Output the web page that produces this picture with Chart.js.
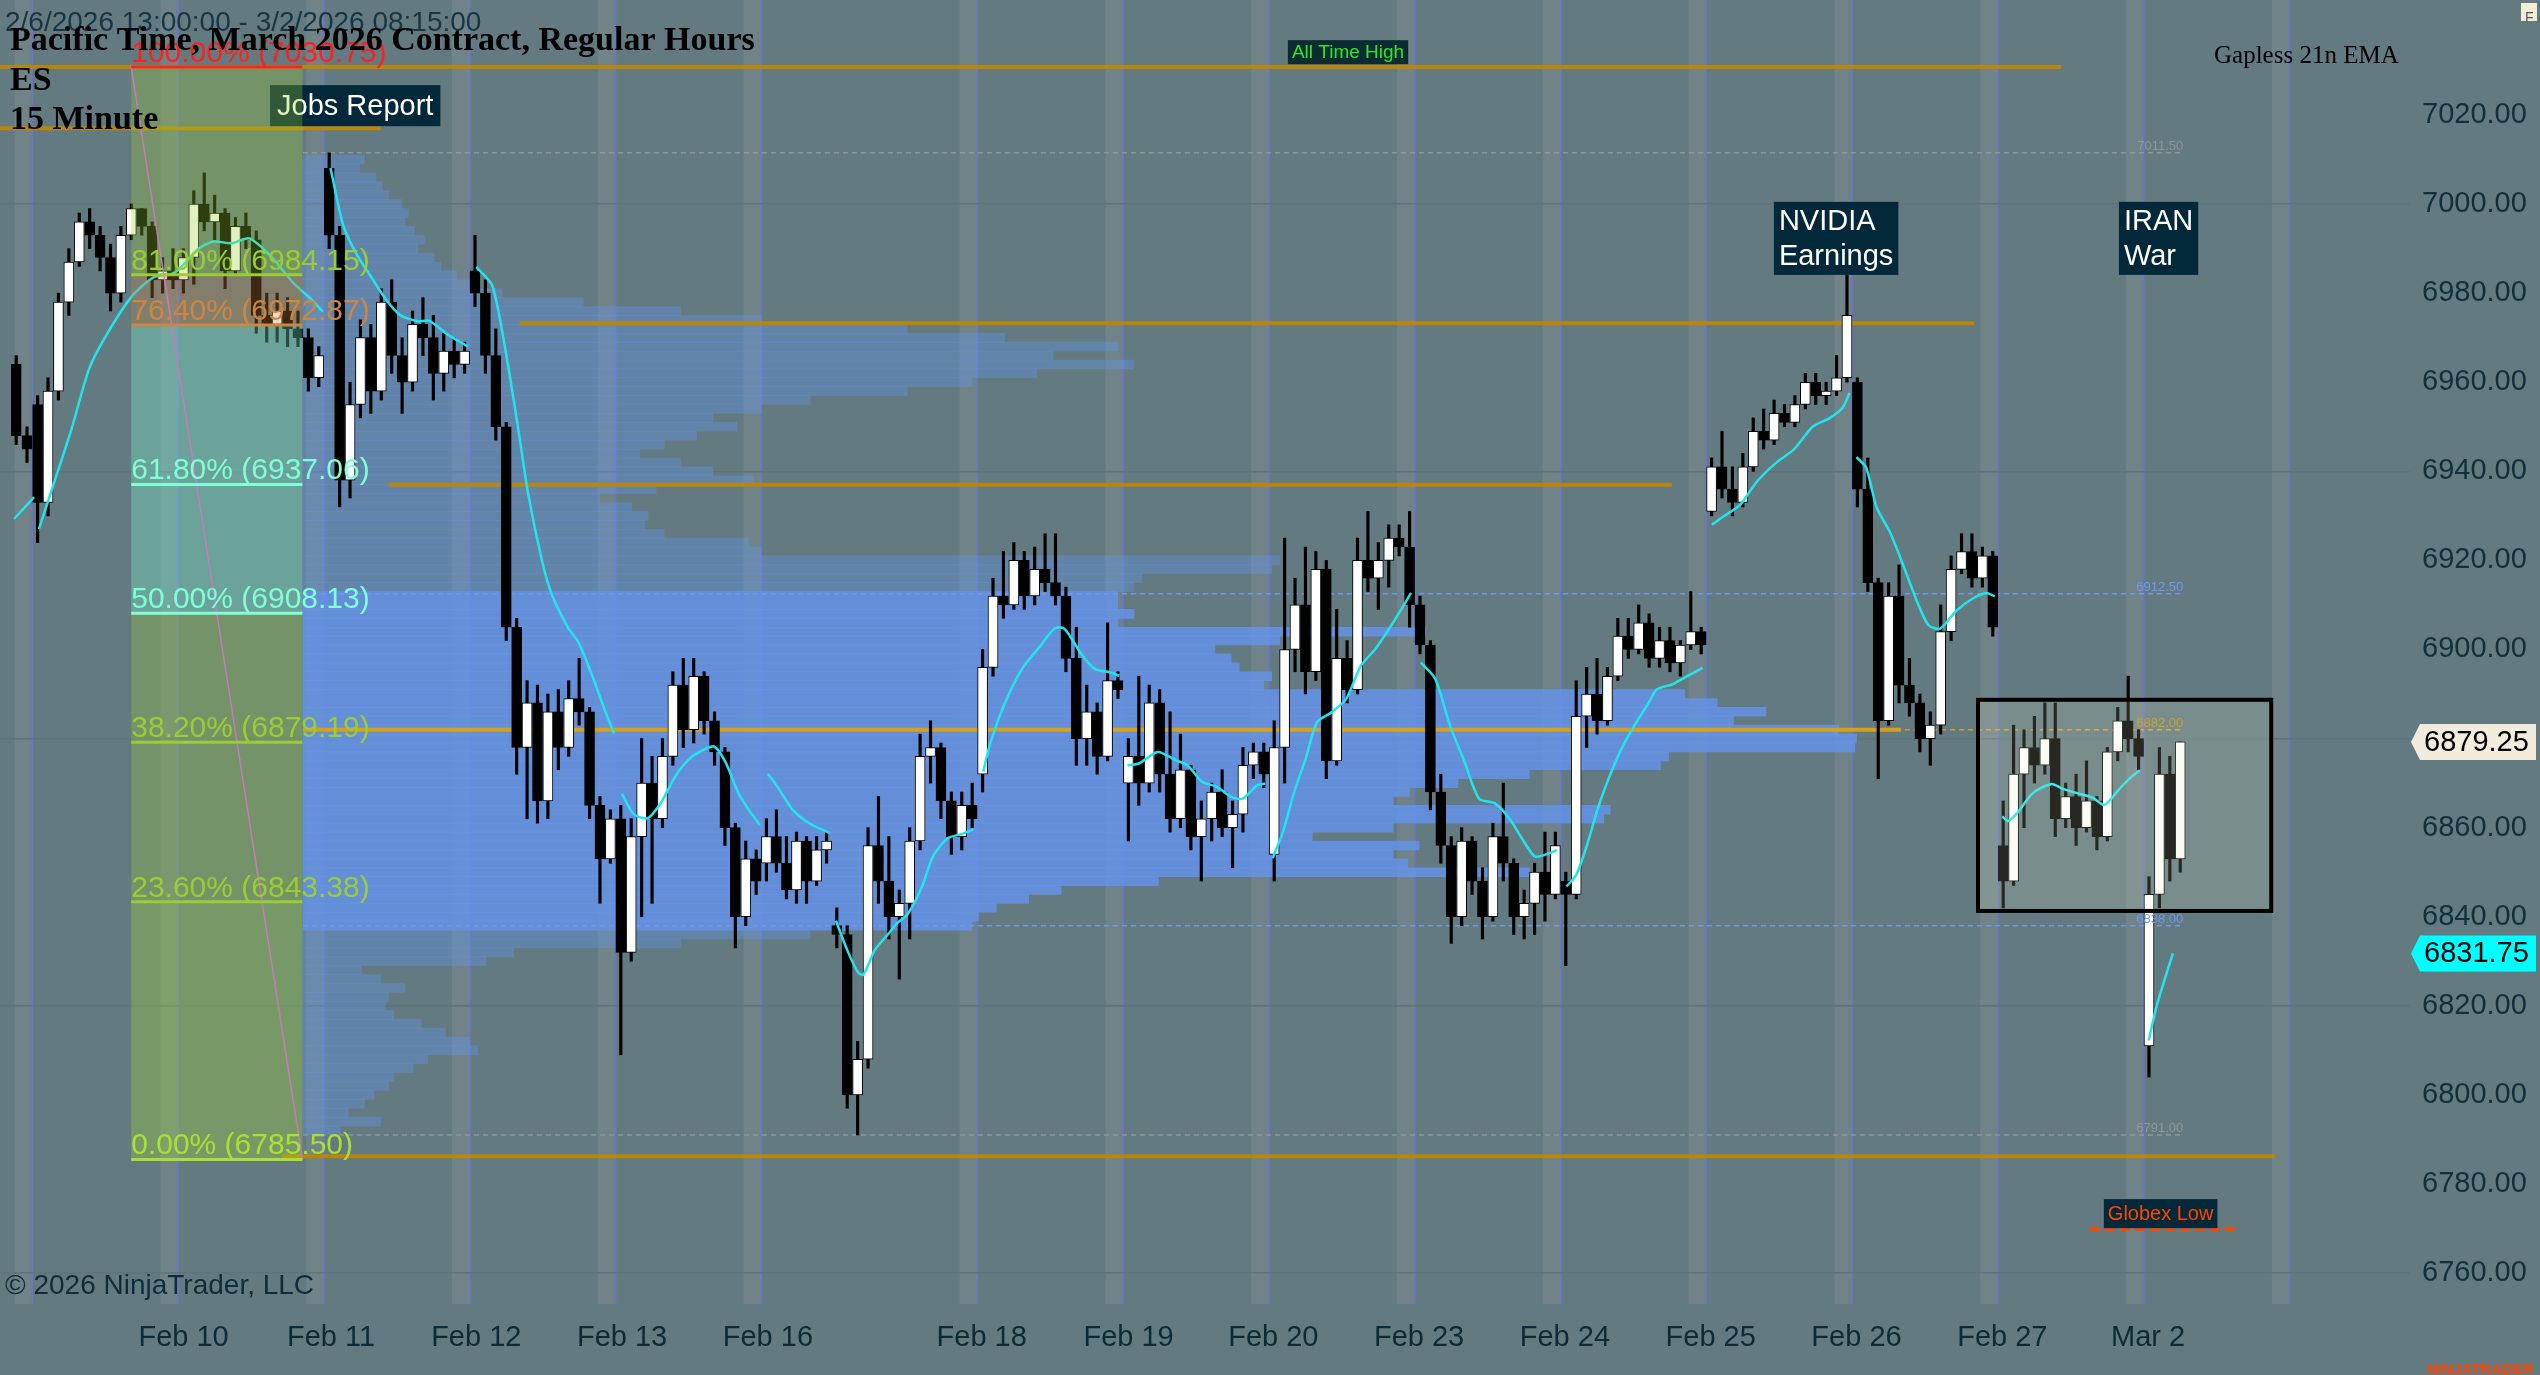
<!DOCTYPE html>
<html lang="en">
<head>
  <meta charset="UTF-8" />
  <title>ES 15 Minute</title>
  <script src="https://cdn.jsdelivr.net/npm/chart.js"></script>
  <style>
    html, body { margin: 0; padding: 0; background: #637a80; overflow: hidden; }
    canvas { display: block; }
  </style>
</head>
<body>
  <canvas id="esChart" width="2540" height="1375"></canvas>

  <script>
    // x axis unit = one 15-minute bar; 0 = start of the Feb 9 regular session
    // 30-minute candles: [open, high, low, close]
    const feb06 = [[6964,6966,6946,6948],[6948,6950,6942,6945]];
    const feb09 = [
      [6955,6957,6924,6933],[6933,6961,6930,6958],[6958,6980,6956,6978],[6978,6990,6975,6987],
      [6987,6998,6986,6996],[6996,6999,6990,6993],[6993,6995,6985,6988],[6988,6991,6976,6980],
      [6980,6995,6978,6993],[6993,7000,6992,6999],[6999,6999,6993,6995],[6995,6996,6979,6983],
      [6983,6988,6980,6985],[6985,6990,6981,6983]];
    const feb10 = [
      [6983,6990,6980,6988],[6988,7003,6982,7000],[7000,7007,6994,6996],[6996,7002,6992,6998],
      [6998,6999,6981,6985],[6985,6997,6984,6995],[6995,6998,6990,6992],[6992,6994,6971,6975],
      [6975,6980,6969,6973],[6973,6980,6969,6976],[6976,6979,6968,6972],[6972,6976,6968,6970],
      [6970,6972,6958,6961],[6961,6968,6959,6966]];
    const feb11 = [
      [7008,7011.5,6990,6993],[6993,6995,6932,6938],[6938,6960,6934,6955],[6955,6974,6952,6970],
      [6970,6973,6953,6958],[6958,6981,6956,6978],[6978,6983,6962,6966],[6966,6970,6953,6960],
      [6960,6976,6958,6973],[6973,6979,6966,6970],[6970,6975,6956,6962],[6962,6971,6958,6967],
      [6967,6970,6961,6964],[6964,6969,6962,6967]];
    const feb12 = [
      [6985,6993,6977,6980],[6980,6983,6962,6966],[6966,6972,6947,6950],[6950,6951,6902,6905],
      [6905,6907,6872,6878],[6878,6893,6862,6888],[6888,6892,6861,6866],[6866,6890,6862,6886],
      [6886,6891,6873,6878],[6878,6893,6876,6889],[6889,6898,6883,6886],[6886,6887,6862,6865],
      [6865,6867,6843,6853],[6853,6864,6852,6862]];
    const feb13 = [
      [6862,6865,6809,6832],[6832,6862,6830,6858],[6858,6880,6840,6870],[6870,6876,6843,6862],
      [6862,6880,6860,6876],[6876,6895,6874,6892],[6892,6898,6878,6882],[6882,6898,6879,6894],
      [6894,6895,6881,6884],[6884,6886,6874,6877],[6877,6878,6856,6860],[6860,6861,6833,6840],
      [6840,6857,6838,6853],[6853,6855,6845,6848]];
    const feb16 = [
      [6852,6862,6848,6858],[6858,6864,6850,6852],[6852,6858,6844,6846],[6846,6859,6843,6857],
      [6857,6858,6843,6848],[6848,6858,6847,6855],[6855,6859,6852,6857]];
    const feb17 = [
      [6838,6842,6833,6836],[6836,6838,6797,6800],[6800,6812,6791,6808],[6808,6860,6806,6856],
      [6856,6867,6843,6848],[6848,6858,6835,6840],[6840,6846,6826,6843],[6843,6860,6835,6857],
      [6857,6881,6855,6876],[6876,6884,6870,6878],[6878,6879,6862,6866],[6866,6868,6854,6858],
      [6858,6868,6855,6865],[6865,6870,6860,6862]];
    const feb18 = [
      [6872,6900,6868,6896],[6896,6916,6894,6912],[6912,6922,6907,6910],[6910,6924,6909,6920],
      [6920,6922,6909,6912],[6912,6923,6910,6918],[6918,6926,6913,6915],[6915,6926,6910,6912],
      [6912,6914,6895,6898],[6898,6905,6874,6880],[6880,6892,6874,6886],[6886,6888,6872,6876],
      [6876,6906,6875,6893],[6893,6895,6889,6891]];
    const feb19 = [
      [6870,6880,6857,6876],[6876,6894,6865,6870],[6870,6892,6868,6888],[6888,6891,6868,6872],
      [6872,6886,6859,6862],[6862,6881,6860,6873],[6873,6874,6855,6858],[6858,6866,6848,6862],
      [6862,6870,6857,6868],[6868,6873,6858,6860],[6860,6866,6851,6863],[6863,6878,6859,6874],
      [6874,6879,6871,6877],[6877,6879,6869,6872]];
    const feb20 = [
      [6854,6884,6848,6878],[6878,6925,6870,6900],[6900,6916,6895,6910],[6910,6923,6890,6895],
      [6895,6922,6893,6918],[6918,6920,6871,6875],[6875,6909,6874,6898],[6898,6902,6888,6891],
      [6891,6925,6890,6920],[6920,6931,6913,6916],[6916,6924,6909,6920],[6920,6928,6914,6925],
      [6925,6928,6921,6923],[6923,6931,6905,6910]];
    const feb23 = [
      [6910,6912,6899,6901],[6901,6902,6864,6868],[6868,6872,6852,6856],[6856,6858,6834,6840],
      [6840,6860,6838,6857],[6857,6858,6845,6848],[6848,6851,6835,6840],[6840,6861,6839,6858],
      [6858,6870,6848,6852],[6852,6853,6836,6840],[6840,6846,6835,6843],[6843,6852,6836,6850],
      [6850,6859,6839,6845],[6845,6859,6844,6856]];
    const feb24 = [
      [6848,6850,6829,6845],[6845,6893,6844,6885],[6885,6896,6878,6890],[6890,6898,6881,6884],
      [6884,6896,6883,6894],[6894,6907,6893,6903],[6903,6907,6898,6900],[6900,6910,6899,6906],
      [6906,6908,6896,6898],[6898,6905,6896,6902],[6902,6905,6895,6897],[6897,6902,6894,6901],
      [6901,6913,6900,6904],[6904,6905,6899,6901]];
    const feb25 = [
      [6931,6943,6930,6941],[6941,6949,6934,6936],[6936,6941,6930,6933],[6933,6944,6932,6941],
      [6941,6952,6940,6949],[6949,6954,6945,6947],[6947,6956,6946,6953],[6953,6955,6950,6951],
      [6951,6957,6950,6955],[6955,6962,6954,6960],[6960,6962,6955,6957],[6957,6960,6955,6958],
      [6958,6966,6957,6961],[6961,6984,6960,6975]];
    const feb26 = [
      [6960,6961,6932,6936],[6936,6943,6913,6915],[6915,6916,6871,6884],[6884,6915,6883,6912],
      [6912,6919,6888,6892],[6892,6898,6885,6888],[6888,6890,6877,6880],[6880,6886,6874,6883],
      [6883,6910,6881,6904],[6904,6921,6902,6918],[6918,6926,6917,6922],[6922,6926,6914,6916],
      [6916,6923,6914,6921],[6921,6922,6903,6905]];
    const feb27 = [
      [6856,6866,6842,6848],[6848,6883,6847,6872],[6872,6882,6860,6878],[6878,6885,6870,6874],
      [6874,6888,6872,6880],[6880,6888,6858,6862],[6862,6870,6860,6867],[6867,6872,6856,6860],
      [6860,6875,6859,6866],[6866,6867,6855,6858],[6858,6878,6857,6877],[6877,6887,6875,6884],
      [6884,6894,6877,6880],[6880,6882,6873,6876]];
    const mar02 = [[6811,6849,6804,6845],[6845,6878,6842,6872],[6872,6876,6848,6853],[6853,6879.25,6850,6879.25]];

    const sessionBars = [feb06, feb09, feb10, feb11, feb12, feb13, feb16, feb17, feb18, feb19, feb20, feb23, feb24, feb25, feb26, feb27, mar02];
    const sessionStart = [-4, 0, 27, 54, 81, 108, 135, 148, 175, 202, 229, 256, 283, 310, 337, 364, 391];
    const sessionLength = [4, 27, 27, 27, 27, 27, 13, 27, 27, 27, 27, 27, 27, 27, 27, 27, 27];
    const sessionSlots = [2, 14, 14, 14, 14, 14, 7, 14, 14, 14, 14, 14, 14, 14, 14, 14, 14];

    // gapless 21 EMA as drawn, [bar, price]; null = session gap
    const emaPoints = [
      [-3.4,6929.3],[0.3,6934.2], null,
      [1.2,6927],[3.9,6937],[7.2,6949.3],[10.5,6963],[13.8,6970.8],[18.5,6979.4],[22.5,6983.6],[25.8,6984.3],
      [27,6985.2],[30.9,6990.1],[33.6,6991.6],[36.9,6991.2],[40.2,6992.3],[44.4,6988],[48.3,6982.3],[51.6,6978.7],[53.8,6975.8], null,
      [55.2,7008.1],[57.6,6995.1],[60,6988.8],[62.7,6983.7],[65.4,6978.7],[68.1,6975.1],[71.4,6973.7],[73.5,6973.8],[76.8,6970.8],[80.7,6968], null,
      [82.2,6985.9],[85.2,6981.6],[87.9,6965.1],[90,6949.3],[91.8,6935],[94.5,6919.3],[96.3,6912],[99.3,6904.7],[101.1,6901.7],[103.8,6893.7],[105.9,6886.7],[107.7,6881.2], null,
      [109.2,6867.6],[111.3,6863.1],[113.9,6862.1],[116.4,6865.6],[119.1,6871.6],[121.8,6875.6],[124.5,6877.6],[126.3,6878.2],[128.4,6874.6],[130.8,6867.6],[132.9,6863.6],[134.7,6860.6], null,
      [136.2,6872.1],[138.3,6868.6],[140.7,6864.1],[143.7,6861.1],[147.6,6858.8], null,
      [148.8,6839.1],[150.9,6832.5],[152.9,6827.5],[153.9,6827],[156,6832.5],[158.4,6836],[160.2,6838.6],[162.1,6840.6],[164.7,6846.6],[166.8,6853.6],[169.5,6857.6],[172.2,6858.6],[174.3,6859.6], null,
      [176.1,6872.6],[177.3,6878.6],[180,6887.7],[183.3,6895.7],[186.6,6900.7],[189.3,6904.7],[191.1,6904.7],[194.4,6898.7],[196.8,6895.6],[199.5,6894.9],[201.3,6894.1], null,
      [202.8,6874],[204.9,6874.4],[208.4,6877],[211.8,6875.1],[213.9,6874],[216.6,6870.3],[219.3,6869.2],[222,6866.9],[224.1,6866.5],[226.8,6869.5],[228.3,6869.9], null,
      [229.7,6853.2],[231.6,6859.1],[233.7,6868.1],[235.8,6875.5],[237.9,6883.7],[240.6,6885.9],[243.3,6888.9],[246,6896.3],[248.7,6900.1],[251.6,6905.3],[253.5,6909],[255.3,6912.7], null,
      [257.1,6897.1],[259.8,6893.4],[262.5,6883],[265.2,6874.8],[267.9,6866.5],[270.8,6865.5],[273.5,6862.1],[276.2,6856.9],[278.3,6853.5],[281,6854.3],[282.3,6855], null,
      [284.1,6846.8],[285.9,6849.4],[287.9,6856.1],[289.9,6864.3],[291.9,6871],[294,6877],[296.7,6883],[299.4,6888.2],[300.8,6891],[303.9,6892.3],[306.9,6894.3],[309.3,6895.9], null,
      [311,6928],[313.2,6929.9],[316.2,6932.4],[319.3,6937.6],[323,6942],[326.1,6944.8],[329.7,6950],[332.9,6952],[335.3,6954.4],[336.5,6957.6], null,
      [337.8,6943.2],[339.6,6940.8],[341.5,6932],[344,6926.3],[346.4,6919.1],[348.9,6911.1],[351.1,6905.5],[353.3,6904.7],[356.3,6908.7],[359.4,6911.5],[361.9,6912.7],[363.4,6911.9], null,
      [364.8,6862.5],[365.9,6861.5],[367.7,6863.5],[370.4,6867.7],[373.9,6869.8],[376,6868.7],[378.8,6867.7],[381.6,6866.7],[383.7,6865.1],[386.5,6868.7],[388.6,6871.3],[390.3,6872.9], null,
      [391.9,6812.2],[393.4,6820],[395.2,6827.2],[396.4,6831.75]
    ];

    // volume profile, 2-point rows from 7010 down to 6792, length in bars
    const PROFILE_TOP = 7010, PROFILE_STEP = 2, PROFILE_START = 50.1;
    const profileLen = [
      11.4,10.5,13.5,14.7,15.9,18.3,19.5,18.9,20.7,22.5,
      21.3,24.3,25.5,28.5,32.7,36.9,51.9,69.9,84.9,111.9,
      129.9,150.9,138.9,153.9,135.9,123.9,111.9,93.9,84.9,75.9,
      80.4,72.9,66.9,62.4,69.9,75.9,83.4,65.4,54.9,60.9,
      63.9,63.3,66.9,82.5,84.9,180.9,179.4,155.4,153.9,150.9,
      150.9,153.9,150.9,207.9,180.9,168.9,171.9,173.4,179.4,177.9,
      255.9,261.9,270.9,264.9,284.4,287.7,287.4,252.9,251.4,227.1,
      213.9,204.9,201.9,242.1,240.9,201.9,186.9,206.7,201.9,204.6,
      227.1,158.4,140.4,134.4,128.4,125.1,123.9,93.9,69.9,39,
      33.9,10.8,14.4,18.9,15.9,15.3,16.8,21.9,26.4,30.9,
      32.4,23.1,20.4,16.8,15.9,13.2,11.4,8.4,14.4,6.9
    ];
    const valueArea = [6838, 6912.5];
    const vaLevels = [7011.5, 6912.5, 6882, 6838, 6791];
    const vaColors = ['#8d9799', '#7098ea', '#d1a02a', '#7098ea', '#8d9799'];
    const PROFILE_LINE_END = 398.3;

    // drawn horizontal lines
    const goldLevels = [7030.75, 7017, 6973.25, 6937, 6786.25];
    const goldFrom = [-6, -6, 90.2, 66, 46.2];
    const goldTo = [375.7, 64.5, 359.6, 303.6, 415.3];
    const pocLevel = 6882, pocTo = 346;
    const globexLow = 6769.9, globexBars = [381, 408.8];

    // fibonacci retracement
    const fibLevels = [1, 0.81, 0.764, 0.618, 0.5, 0.382, 0.236, 0];
    const fibColors = ['#ff2020', '#9acd32', '#cd853f', '#7fffd4', '#7fffd4', '#9acd32', '#9acd32', '#a6e22e'];
    const fibHigh = 7030.75, fibLow = 6785.5;
    const fibBars = [18.3, 50];

    const boxBars = [360.3, 414.6], boxPrices = [6841.3, 6888.7];

    const breakBars = [0, 27, 54, 81, 108, 135, 175, 202, 229, 256, 283, 310, 337, 364, 391, 418];
    const dayTicks = [28, 55.3, 82.2, 109.2, 136.2, 175.8, 203, 229.8, 256.8, 283.8, 310.8, 337.8, 364.8, 391.8];
    const dayLabels = ['Feb 10','Feb 11','Feb 12','Feb 13','Feb 16','Feb 18','Feb 19','Feb 20','Feb 23','Feb 24','Feb 25','Feb 26','Feb 27','Mar 2'];
    const priceTicks = [6760,6780,6800,6820,6840,6860,6880,6900,6920,6940,6960,6980,7000,7020];

    const X_MIN = -6, X_MAX = 440.3, Y_MIN = 6753.05, Y_MAX = 7045.82;
    const BG = '#637a80', STRIPE = '#6f8388';
    const SANS = '"Liberation Sans", Arial, sans-serif';
    const SERIF = '"Liberation Serif", "Times New Roman", serif';

    // candles
    const wickData = [], bodyData = [], bodyColor = [];
    sessionBars.forEach((bars, s) => {
      const step = sessionLength[s] / sessionSlots[s];
      bars.forEach(([o, h, l, c], j) => {
        const x = sessionStart[s] + (j + 0.5) * step;
        wickData.push({ x, y: [l, h] });
        const lo = Math.min(o, c), hi = Math.max(o, c);
        bodyData.push({ x, y: hi - lo < 0.5 ? [lo - 0.25, hi + 0.25] : [lo, hi] });
        bodyColor.push(c >= o ? '#ffffff' : '#000000');
      });
    });

    const emaData = [];
    emaPoints.forEach(p => {
      if (p) emaData.push({ x: p[0], y: p[1] });
      else emaData.push({ x: emaData[emaData.length - 1].x + 0.05, y: null });
    });

    const profileData = profileLen.map((len, i) => ({ y: PROFILE_TOP - i * PROFILE_STEP, x: [PROFILE_START, PROFILE_START + len] }));
    const profileColors = profileData.map(d =>
      d.y >= valueArea[0] && d.y <= valueArea[1] ? 'rgba(100,149,237,0.8)' : 'rgba(100,149,237,0.38)');

    const hLine = (y, x0, x1, color, width, dash, order) => ({
      type: 'line', data: [{ x: x0, y }, { x: x1, y }], borderColor: color, borderWidth: width,
      borderDash: dash || [], pointRadius: 0, order
    });

    const lineSets = [];
    goldLevels.forEach((lv, i) => lineSets.push(hLine(lv, goldFrom[i], goldTo[i], '#b8860b', 4, null, 80)));
    vaLevels.forEach((lv, i) => lineSets.push(hLine(lv, PROFILE_START, PROFILE_LINE_END, vaColors[i], 1.5, [5, 4], 79)));
    lineSets.push(hLine(pocLevel, PROFILE_START, pocTo, '#d4a11e', 4, null, 78));
    lineSets.push(hLine(globexLow, globexBars[0], globexBars[1], '#ff4500', 4, [10, 5], 30));

    function noteBox(ctx, lines, x, y, font, color, fill, padX, lineH) {
      ctx.font = font;
      const w = Math.max(...lines.map(t => ctx.measureText(t).width)) + padX * 2;
      const h = lines.length * lineH + 4;
      ctx.fillStyle = fill;
      ctx.fillRect(x, y, w, h);
      ctx.fillStyle = color;
      ctx.textAlign = 'left';
      ctx.textBaseline = 'middle';
      lines.forEach((t, i) => ctx.fillText(t, x + padX, y + 2 + lineH * (i + 0.5) + 1));
    }

    const backdrop = {
      id: 'backdrop',
      beforeDraw(chart) {
        const { ctx, chartArea: a, scales } = chart;
        const px = v => scales.x.getPixelForValue(v);
        ctx.save();
        ctx.fillStyle = BG;
        ctx.fillRect(0, 0, chart.width, chart.height);
        ctx.fillStyle = STRIPE;
        breakBars.forEach(b => {
          const x0 = px(b - 3.3), x1 = px(b);
          ctx.fillRect(x0, a.top, x1 - x0, a.bottom - a.top);
        });
        ctx.strokeStyle = '#6d74cf';
        ctx.lineWidth = 1.5;
        breakBars.forEach(b => {
          const x = px(b);
          ctx.beginPath(); ctx.moveTo(x, a.top); ctx.lineTo(x, a.bottom); ctx.stroke();
        });
        ctx.restore();
      }
    };

    const drawings = {
      id: 'drawings',
      afterDatasetsDraw(chart) {
        const { ctx, scales } = chart;
        const px = v => scales.x.getPixelForValue(v);
        const py = v => scales.y.getPixelForValue(v);
        ctx.save();

        noteBox(ctx, ['Jobs Report'], px(44), py(7026.7), '29px ' + SANS, '#ffffff', '#03283a', 7, 37);

        // fib zones on top of the candles
        const fx0 = px(fibBars[0]), fx1 = px(fibBars[1]);
        const lv = fibLevels.map(f => fibLow + f * (fibHigh - fibLow));
        ctx.globalAlpha = 0.3;
        for (let i = 1; i < lv.length; i++) {
          ctx.fillStyle = fibColors[i];
          const ya = py(lv[i - 1]), yb = py(lv[i]);
          ctx.fillRect(fx0, ya, fx1 - fx0, yb - ya);
        }
        ctx.globalAlpha = 1;
        ctx.strokeStyle = '#c57cb8';
        ctx.lineWidth = 1.5;
        ctx.beginPath(); ctx.moveTo(fx0, py(fibHigh)); ctx.lineTo(fx1, py(fibLow)); ctx.stroke();
        ctx.font = '30px ' + SANS;
        ctx.textAlign = 'left';
        ctx.textBaseline = 'alphabetic';
        lv.forEach((p, i) => {
          const y = py(p);
          ctx.strokeStyle = fibColors[i];
          ctx.lineWidth = 3;
          ctx.beginPath(); ctx.moveTo(fx0, y); ctx.lineTo(fx1, y); ctx.stroke();
          ctx.fillStyle = fibColors[i];
          ctx.fillText((fibLevels[i] * 100).toFixed(2) + '% (' + p.toFixed(2) + ')', fx0, y - 5);
        });

        // consolidation box
        const bx0 = px(boxBars[0]), bx1 = px(boxBars[1]);
        const by0 = py(boxPrices[1]), by1 = py(boxPrices[0]);
        ctx.fillStyle = 'rgba(230,235,200,0.17)';
        ctx.fillRect(bx0, by0, bx1 - bx0, by1 - by0);
        ctx.strokeStyle = '#000000';
        ctx.lineWidth = 4;
        ctx.strokeRect(bx0, by0, bx1 - bx0, by1 - by0);

        noteBox(ctx, ['NVIDIA', 'Earnings'], px(322.5), py(7000.5), '29px ' + SANS, '#ffffff', '#03283a', 5, 34.5);
        noteBox(ctx, ['IRAN', 'War'], px(386.4), py(7000.5), '29px ' + SANS, '#ffffff', '#03283a', 5, 34.5);
        noteBox(ctx, ['All Time High'], px(232.5), py(7036.8), '19px ' + SANS, '#2ee62e', '#0b2b33', 4, 20);
        noteBox(ctx, ['Globex Low'], px(383.6), py(6776.6), '20px ' + SANS, '#ff4500', '#03283a', 4, 25);

        // profile level tags
        ctx.font = '13px ' + SANS;
        ctx.textAlign = 'right';
        ctx.textBaseline = 'alphabetic';
        vaLevels.forEach((p, i) => {
          ctx.fillStyle = vaColors[i];
          ctx.fillText(p.toFixed(2), px(PROFILE_LINE_END), py(p) - 3);
        });
        ctx.restore();
      }
    };

    function priceTag(ctx, a, y, text, fill) {
      const x0 = a.right;
      ctx.beginPath();
      ctx.moveTo(x0 + 1, y);
      ctx.lineTo(x0 + 10, y - 18);
      ctx.lineTo(2536, y - 18);
      ctx.lineTo(2536, y + 18);
      ctx.lineTo(x0 + 10, y + 18);
      ctx.closePath();
      ctx.fillStyle = fill;
      ctx.fill();
      ctx.fillStyle = '#000000';
      ctx.font = '29px ' + SANS;
      ctx.textAlign = 'left';
      ctx.textBaseline = 'middle';
      ctx.fillText(text, x0 + 14, y + 1);
    }

    const captions = {
      id: 'captions',
      afterDraw(chart) {
        const { ctx, chartArea: a, scales } = chart;
        ctx.save();
        ctx.textAlign = 'left';
        ctx.textBaseline = 'alphabetic';
        ctx.fillStyle = '#173542';
        ctx.font = '28px ' + SANS;
        ctx.fillText('2/6/2026 13:00:00 - 3/2/2026 08:15:00', 5, 31);
        ctx.fillStyle = '#000000';
        ctx.font = 'bold 34px ' + SERIF;
        ctx.fillText('Pacific Time, March 2026 Contract, Regular Hours', 10, 50);
        ctx.fillText('ES', 10, 90);
        ctx.fillText('15 Minute', 10, 129);
        ctx.font = '25px ' + SERIF;
        ctx.fillText('Gapless 21n EMA', 2214, 63);

        ctx.fillStyle = '#0e2d39';
        ctx.font = '28px ' + SANS;
        ctx.fillText('\u00a9 2026 NinjaTrader, LLC', 5, 1294);

        const lastBar = mar02[mar02.length - 1];
        const lastEma = emaPoints[emaPoints.length - 1];
        priceTag(ctx, a, scales.y.getPixelForValue(lastBar[3]), lastBar[3].toFixed(2), '#f2ecdc');
        priceTag(ctx, a, scales.y.getPixelForValue(lastEma[1]), lastEma[1].toFixed(2), '#00ffff');

        ctx.fillStyle = '#ff4500';
        ctx.font = 'bold 15px ' + SANS;
        ctx.fillText('NINJATRADER', 2427, 1370);

        ctx.fillStyle = '#f3ecd8';
        ctx.fillRect(2521, 3, 16, 18);
        ctx.fillStyle = '#555555';
        ctx.font = '14px ' + SANS;
        ctx.fillText('F', 2525, 18);
        ctx.restore();
      }
    };

    new Chart(document.getElementById('esChart'), {
      type: 'bar',
      data: {
        datasets: [
          {
            label: 'Volume profile', type: 'bar', indexAxis: 'y', xAxisID: 'xp', yAxisID: 'yp',
            data: profileData, backgroundColor: profileColors, barPercentage: 1, categoryPercentage: 1,
            grouped: false, order: 100
          },
          ...lineSets,
          { label: 'Wicks', type: 'bar', data: wickData, backgroundColor: '#000000', barThickness: 2.5, grouped: false, order: 60 },
          {
            label: 'Bodies', type: 'bar', data: bodyData, backgroundColor: bodyColor, borderColor: '#000000',
            borderWidth: 1, borderSkipped: false, barThickness: 10, grouped: false, order: 50
          },
          {
            label: 'Gapless 21n EMA', type: 'line', data: emaData, borderColor: '#22e4ec', borderWidth: 2.5,
            pointRadius: 0, tension: 0.25, spanGaps: false, order: 40
          }
        ]
      },
      options: {
        responsive: false,
        maintainAspectRatio: false,
        devicePixelRatio: 1,
        animation: false,
        events: [],
        layout: { padding: 0 },
        plugins: { legend: { display: false }, tooltip: { enabled: false } },
        scales: {
          x: {
            type: 'linear', position: 'bottom', min: X_MIN, max: X_MAX, offset: false,
            grid: { display: false, drawTicks: false },
            border: { display: false },
            afterBuildTicks: s => { s.ticks = dayTicks.map(v => ({ value: v })); },
            afterFit: s => { s.height = 71; s.paddingLeft = 0; s.paddingRight = 0; },
            ticks: {
              autoSkip: false, maxRotation: 0, minRotation: 0, padding: 17,
              color: '#0d2b36', font: { family: SANS, size: 29 },
              callback: (v, i) => dayLabels[i]
            }
          },
          y: {
            type: 'linear', position: 'right', min: Y_MIN, max: Y_MAX, beginAtZero: false,
            border: { display: false },
            grid: {
              drawTicks: false, lineWidth: 1.5,
              color: c => ((c.tick.value - 6760) % 60 === 0 ? '#5f747a' : 'rgba(0,0,0,0)')
            },
            afterBuildTicks: s => { s.ticks = priceTicks.map(v => ({ value: v })); },
            afterFit: s => { s.width = 130; s.paddingTop = 0; s.paddingBottom = 0; },
            ticks: {
              padding: 12, color: '#11303c', font: { family: SANS, size: 29 },
              callback: v => v.toFixed(2)
            }
          },
          xp: { type: 'linear', display: false, min: X_MIN, max: X_MAX, offset: false, beginAtZero: false },
          yp: { type: 'linear', display: false, min: Y_MIN, max: Y_MAX, offset: false, beginAtZero: false }
        }
      },
      plugins: [backdrop, drawings, captions]
    });
  </script>
</body>
</html>
